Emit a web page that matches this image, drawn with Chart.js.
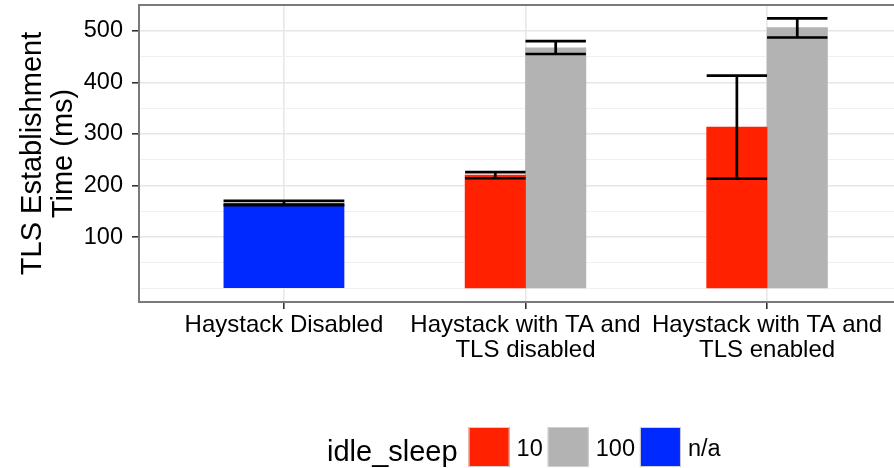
<!DOCTYPE html>
<html>
<head>
<meta charset="utf-8">
<script src="https://cdn.jsdelivr.net/npm/chart.js@4.4.1/dist/chart.umd.min.js"></script>
<style>
  html, body { margin: 0; padding: 0; background: #ffffff; overflow: hidden; }
  canvas { display: block; }
</style>
</head>
<body>
<canvas id="chart" width="912" height="468"></canvas>
<script>
// Categories on the x axis (multi-line labels are arrays)
const categories = [
  'Haystack Disabled',
  ['Haystack with TA and', 'TLS disabled'],
  ['Haystack with TA and', 'TLS enabled']
];

// idle_sleep = 10
const mean10 = [null, 220, 313];
const low10  = [null, 214, 213];
const high10 = [null, 226, 413];

// idle_sleep = 100
const mean100 = [null, 467, 506];
const low100  = [null, 455, 487];
const high100 = [null, 480, 524];

// idle_sleep = n/a
const meanNA = [166, null, null];
const lowNA  = [162, null, null];
const highNA = [170, null, null];

// y axis breaks
const yMajorTicks = [100, 200, 300, 400, 500];
const yMinorTicks = [0, 50, 150, 250, 350, 450, 550];

const legendTitle = 'idle_sleep';

const FONT = '"Liberation Sans", Arial, Helvetica, sans-serif';
Chart.defaults.font.family = FONT;
Chart.defaults.color = '#000000';

// one point per category that has a value; dodge shifts the bar inside its slot
function points(means, lows, highs, dodge) {
  const out = [];
  means.forEach((v, i) => {
    if (v === null) return;
    out.push({ x: i + 1 + dodge, y: v, lo: lows[i], hi: highs[i] });
  });
  return out;
}

// error bars, then the panel frame on top
const errorBars = {
  id: 'errorBars',
  afterDatasetsDraw(chart) {
    const { ctx, chartArea, scales: { y } } = chart;
    ctx.save();
    ctx.strokeStyle = '#000000';
    ctx.lineWidth = 2.7;
    ctx.lineCap = 'butt';
    chart.data.datasets.forEach((ds, di) => {
      const meta = chart.getDatasetMeta(di);
      meta.data.forEach((bar, j) => {
        const p = ds.data[j];
        const half = bar.width / 2;
        const yl = y.getPixelForValue(p.lo);
        const yh = y.getPixelForValue(p.hi);
        ctx.beginPath();
        ctx.moveTo(bar.x, yl); ctx.lineTo(bar.x, yh);
        ctx.moveTo(bar.x - half, yl); ctx.lineTo(bar.x + half, yl);
        ctx.moveTo(bar.x - half, yh); ctx.lineTo(bar.x + half, yh);
        ctx.stroke();
      });
    });
    ctx.strokeStyle = '#7a7a7a';
    ctx.lineWidth = 2;
    ctx.strokeRect(chartArea.left, chartArea.top, chartArea.right - chartArea.left, chartArea.bottom - chartArea.top);
    ctx.restore();
  }
};

// horizontal legend with its title inline, below the axis labels
const inlineLegend = {
  id: 'inlineLegend',
  afterDraw(chart, args, opts) {
    const ctx = chart.ctx;
    ctx.save();
    ctx.fillStyle = '#000000';
    ctx.textBaseline = 'alphabetic';
    ctx.textAlign = 'left';
    ctx.font = `29px ${FONT}`;
    let x = opts.x;
    ctx.fillText(legendTitle, x, opts.titleBaseline);
    x += ctx.measureText(legendTitle).width + 11;
    ctx.font = `23.5px ${FONT}`;
    chart.data.datasets.forEach((ds) => {
      ctx.fillStyle = ds.backgroundColor;
      ctx.fillRect(x, opts.boxTop, opts.boxW, opts.boxH);
      ctx.strokeStyle = '#d0d0d0';
      ctx.lineWidth = 1;
      ctx.strokeRect(x + 0.5, opts.boxTop + 0.5, opts.boxW - 1, opts.boxH - 1);
      x += opts.boxW + 7;
      ctx.fillStyle = '#000000';
      ctx.fillText(ds.label, x, opts.labelBaseline);
      x += ctx.measureText(ds.label).width + 5;
    });
    ctx.restore();
  }
};

const isMajor = (v) => yMajorTicks.includes(v);

new Chart(document.getElementById('chart'), {
  type: 'bar',
  data: {
    datasets: [
      { label: '10',  data: points(mean10, low10, high10, -0.125),   backgroundColor: '#FF2100', grouped: false, barPercentage: 1, categoryPercentage: 1 },
      { label: '100', data: points(mean100, low100, high100, 0.125), backgroundColor: '#B3B3B3', grouped: false, barPercentage: 1, categoryPercentage: 1 },
      { label: 'n/a', data: points(meanNA, lowNA, highNA, 0),        backgroundColor: '#0029FF', grouped: false, barPercentage: 2, categoryPercentage: 1 }
    ]
  },
  plugins: [errorBars, inlineLegend],
  options: {
    responsive: false,
    animation: false,
    events: [],
    layout: { padding: { top: 5, left: 0, right: 0, bottom: 0 } },
    plugins: {
      legend: { display: false },
      tooltip: { enabled: false },
      inlineLegend: { x: 327, titleBaseline: 461, boxTop: 427, boxW: 41, boxH: 40, labelBaseline: 456 }
    },
    scales: {
      x: {
        type: 'linear',
        min: 0.4,
        max: 3.6,
        offset: false,
        afterBuildTicks: (s) => { s.ticks = categories.map((c, i) => ({ value: i + 1 })); },
        afterFit: (s) => { s.height = 166; s.paddingLeft = 0; s.paddingRight = 0; },
        ticks: {
          autoSkip: false,
          maxRotation: 0,
          minRotation: 0,
          padding: 4,
          color: '#000000',
          font: { size: 24, lineHeight: 1.03 },
          callback: (v) => categories[Math.round(v) - 1]
        },
        grid: { offset: false, color: '#e8e8e8', lineWidth: 1.6, tickLength: 7, tickColor: '#333333', tickWidth: 1.6 },
        border: { display: false }
      },
      y: {
        min: -26,
        max: 550,
        afterBuildTicks: (s) => {
          s.ticks = [...yMinorTicks, ...yMajorTicks].sort((a, b) => a - b).map((v) => ({ value: v }));
        },
        afterFit: (s) => { s.width = 139; s.paddingTop = 0; s.paddingBottom = 0; },
        ticks: {
          autoSkip: false,
          padding: 9,
          color: '#000000',
          font: { size: 23.5 },
          callback: (v) => (isMajor(v) ? String(v) : '')
        },
        grid: {
          color: (c) => (isMajor(c.tick.value) ? '#e6e6e6' : '#f0f0f0'),
          lineWidth: (c) => (isMajor(c.tick.value) ? 1.6 : 1.1),
          tickLength: 7,
          tickColor: (c) => (isMajor(c.tick.value) ? '#333333' : 'rgba(0,0,0,0)'),
          tickWidth: 1.6
        },
        border: { display: false },
        title: {
          display: true,
          text: ['TLS Establishment', 'Time (ms)'],
          color: '#000000',
          font: { size: 29, lineHeight: 1.05 },
          padding: { top: 18, bottom: 0 }
        }
      }
    }
  }
});
</script>
</body>
</html>
